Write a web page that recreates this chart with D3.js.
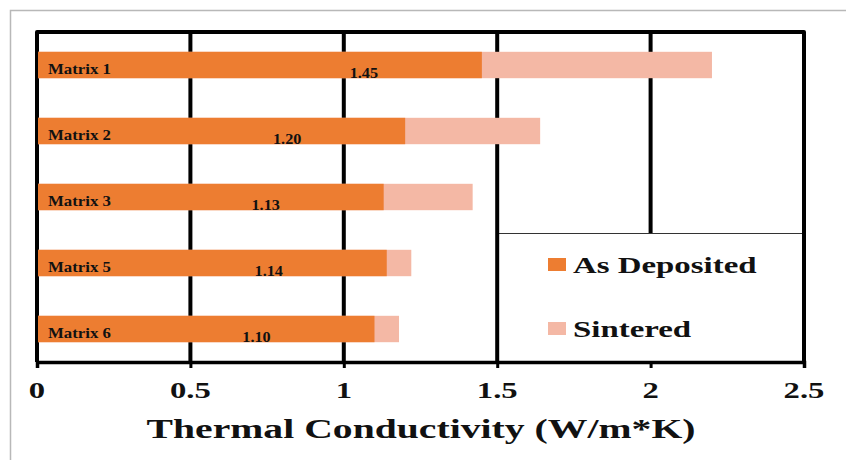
<!DOCTYPE html>
<html>
<head>
<meta charset="utf-8">
<script src="https://cdn.jsdelivr.net/npm/d3@7"></script>
<style>
  html, body { margin: 0; padding: 0; background: #fff; }
  svg { display: block; }
  text { font-family: "Liberation Serif", "Times New Roman", serif; font-weight: bold; fill: #111; }
</style>
</head>
<body>
<svg id="chart" width="846" height="460"></svg>
<script>
// ---- data ----
const categories = ["Matrix 1", "Matrix 2", "Matrix 3", "Matrix 5", "Matrix 6"];
const asDeposited = [1.45, 1.20, 1.13, 1.14, 1.10];
const sintered = [2.20, 1.64, 1.42, 1.22, 1.18];
const valueLabels = ["1.45", "1.20", "1.13", "1.14", "1.10"];
const tickValues = [0, 0.5, 1, 1.5, 2, 2.5];
const tickLabels = ["0", "0.5", "1", "1.5", "2", "2.5"];
const seriesNames = ["As Deposited", "Sintered"];
const xTitle = "Thermal Conductivity (W/m*K)";

// ---- layout ----
const colors = ["#ED7D31", "#F4B8A5"];
const SX = 1.42; // horizontal stretch of glyphs seen in the reference
const pLeft = 37, pRight = 804, pTop = 32, pBottom = 362;

const svg = d3.select("#chart");

// outer frame
svg.append("path")
  .attr("d", "M10.5,460 V10.5 H846")
  .attr("fill", "none").attr("stroke", "#b8b8b8").attr("stroke-width", 1.5);

const x = d3.scaleLinear().domain([0, 2.5]).range([pLeft, pRight]);
const y = d3.scaleBand().domain(categories).range([pTop, pBottom])
  .paddingInner(0.6).paddingOuter(0.3);

function stretchedText(g, tx, ty, str, size, anchor, sx) {
  return g.append("text")
    .attr("transform", `translate(${tx},${ty}) scale(${sx},1)`)
    .attr("text-anchor", anchor)
    .attr("font-size", size)
    .text(str);
}

// gridline at 2 (partly hidden by legend)
svg.append("g").selectAll("line")
  .data([2])
  .join("line")
  .attr("x1", d => x(d)).attr("x2", d => x(d))
  .attr("y1", pTop).attr("y2", pBottom)
  .attr("stroke", "#000").attr("stroke-width", 4);

// legend box
const lgTop = 233;
svg.append("rect")
  .attr("x", x(1.5)).attr("y", lgTop)
  .attr("width", x(2.5) - x(1.5)).attr("height", pBottom - lgTop)
  .attr("fill", "#fff");
svg.append("line")
  .attr("x1", x(1.5)).attr("x2", x(2.5))
  .attr("y1", lgTop + 0.5).attr("y2", lgTop + 0.5)
  .attr("stroke", "#333").attr("stroke-width", 1.2);

// other gridlines
svg.append("g").selectAll("line")
  .data([0.5, 1, 1.5])
  .join("line")
  .attr("x1", d => x(d)).attr("x2", d => x(d))
  .attr("y1", pTop).attr("y2", pBottom)
  .attr("stroke", "#000").attr("stroke-width", 4);

// plot border (left, top, right)
svg.append("path")
  .attr("d", `M${x(0)},${pBottom} V${pTop} H${x(2.5)} V${pBottom}`)
  .attr("fill", "none").attr("stroke", "#000").attr("stroke-width", 4)
  .attr("stroke-linejoin", "round");

// bars
const bars = svg.append("g");
bars.selectAll("rect.sint")
  .data(categories)
  .join("rect").attr("class", "sint")
  .attr("x", x(0) + 1)
  .attr("y", d => y(d))
  .attr("width", (d, i) => x(sintered[i]) - x(0) - 1)
  .attr("height", y.bandwidth())
  .attr("fill", colors[1]);
bars.selectAll("rect.dep")
  .data(categories)
  .join("rect").attr("class", "dep")
  .attr("x", x(0) + 1)
  .attr("y", d => y(d))
  .attr("width", (d, i) => x(asDeposited[i]) - x(0) - 1)
  .attr("height", y.bandwidth())
  .attr("fill", colors[0]);

// category labels and value labels inside bars
categories.forEach((c, i) => {
  stretchedText(svg, 48, y(c) + y.bandwidth() - 4, c, 15, "start", 1.12);
  stretchedText(svg, x(asDeposited[i]) - 118, y(c) + y.bandwidth(), valueLabels[i], 15, "middle", 1.08);
});

// x axis
const axis = svg.append("g")
  .attr("transform", `translate(0,${pBottom})`)
  .call(d3.axisBottom(x).tickValues(tickValues).tickSize(6).tickFormat(""));
axis.select(".domain").attr("stroke", "#000").attr("stroke-width", 3.5);
axis.selectAll(".tick line").attr("stroke", "#000").attr("stroke-width", 3);

tickValues.forEach((t, i) => {
  stretchedText(svg, x(t), 398, tickLabels[i], 23, "middle", SX);
});

// axis title
stretchedText(svg, 421, 438, xTitle, 27, "middle", 1.47);

// legend entries
seriesNames.forEach((s, i) => {
  const ly = [258, 322][i];
  svg.append("rect")
    .attr("x", 548).attr("y", ly)
    .attr("width", 18).attr("height", 13)
    .attr("fill", colors[i]);
  stretchedText(svg, 573, ly + 15, s, 23, "start", 1.43);
});
</script>
</body>
</html>
